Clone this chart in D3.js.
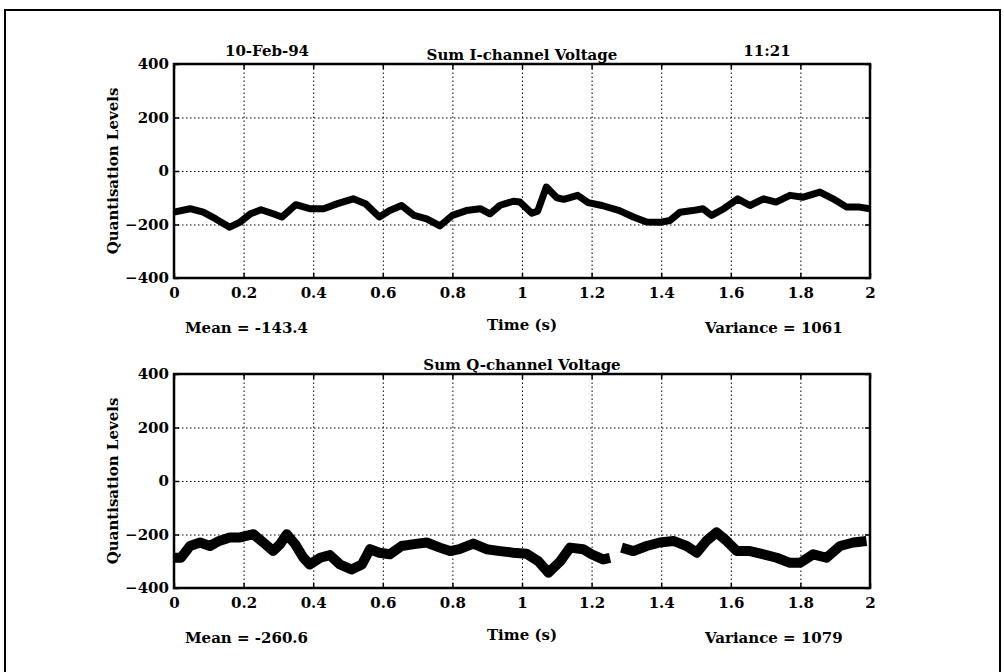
<!DOCTYPE html>
<html>
<head>
<meta charset="utf-8">
<script src="https://cdn.jsdelivr.net/npm/d3@7"></script>
<style>
  body { margin: 0; background: #fff; }
  text { font-family: "DejaVu Serif", "Liberation Serif", serif; font-weight: bold; fill: #000; }
  .grid line { stroke: #000; stroke-width: 1; stroke-dasharray: 1.5,2.5; }
  .grid path { display: none; }
  .marks path { display: none; }
  .marks line { stroke: #000; stroke-width: 1.5; }
</style>
</head>
<body>
<div id="chart"></div>
<script>
// tick labels
var xTicks = [0, 0.2, 0.4, 0.6, 0.8, 1, 1.2, 1.4, 1.6, 1.8, 2];
var yTicks = [-400, -200, 0, 200, 400];

// I-channel trace (time in s, quantisation level)
var iTime = [0, 0.046, 0.084, 0.12, 0.16, 0.19, 0.22, 0.25, 0.285, 0.31, 0.35, 0.39, 0.43, 0.47, 0.515, 0.55, 0.59, 0.62, 0.654, 0.69, 0.726, 0.764, 0.80, 0.84, 0.88, 0.908, 0.937, 0.975, 0.994, 1.028, 1.045, 1.07, 1.10, 1.12, 1.16, 1.19, 1.23, 1.28, 1.32, 1.358, 1.396, 1.425, 1.454, 1.49, 1.52, 1.545, 1.58, 1.62, 1.655, 1.694, 1.73, 1.77, 1.808, 1.856, 1.894, 1.933, 1.97, 2.0];
var iVal = [-154, -141, -154, -179, -210, -191, -160, -145, -160, -172, -126, -141, -141, -122, -104, -122, -172, -148, -129, -166, -179, -205, -166, -148, -141, -160, -128, -113, -116, -158, -150, -60, -100, -106, -91, -118, -129, -148, -172, -191, -192, -185, -154, -148, -141, -166, -141, -104, -129, -104, -116, -91, -98, -79, -104, -135, -135, -141];

// Q-channel trace (null = gap in the record)
var qTime = [0, 0.02, 0.046, 0.075, 0.103, 0.13, 0.16, 0.19, 0.228, 0.257, 0.285, 0.305, 0.324, 0.348, 0.372, 0.39, 0.42, 0.448, 0.477, 0.51, 0.54, 0.563, 0.59, 0.62, 0.654, 0.69, 0.726, 0.764, 0.793, 0.82, 0.86, 0.898, 0.937, 0.975, 1.013, 1.047, 1.076, 1.11, 1.138, 1.176, 1.2, 1.233, 1.253, 1.27, 1.286, 1.32, 1.358, 1.396, 1.435, 1.473, 1.502, 1.53, 1.559, 1.588, 1.617, 1.655, 1.694, 1.732, 1.77, 1.799, 1.837, 1.875, 1.914, 1.952, 1.99];
var qVal = [-287, -287, -243, -230, -243, -224, -211, -211, -199, -230, -262, -236, -199, -236, -287, -312, -287, -277, -312, -331, -312, -255, -268, -274, -243, -236, -230, -249, -262, -255, -234, -255, -262, -268, -272, -300, -343, -300, -249, -255, -274, -293, -287, null, -249, -262, -243, -230, -224, -243, -268, -224, -192, -224, -262, -262, -274, -287, -306, -306, -274, -287, -243, -230, -224];

var panels = [
  {top: 64, title: "Sum I-channel Voltage", mean: "Mean = -143.4", variance: "Variance = 1061",
   t: iTime, v: iVal, width: 7},
  {top: 374, title: "Sum Q-channel Voltage", mean: "Mean = -260.6", variance: "Variance = 1079",
   t: qTime, v: qVal, width: 10}
];

var W = 1004, H = 672;
var left = 174, right = 870, ph = 214;
var pw = right - left;

var svg = d3.select("#chart").append("svg")
    .attr("width", W)
    .attr("height", H);

svg.append("rect").attr("width", W).attr("height", H).attr("fill", "#fff");

// outer page frame
svg.append("rect")
    .attr("x", 5).attr("y", 10)
    .attr("width", 995).attr("height", 700)
    .attr("fill", "none")
    .attr("stroke", "#000")
    .attr("stroke-width", 2);

// header text
svg.append("text").attr("x", 267).attr("y", 56).attr("text-anchor", "middle")
    .style("font-size", "15px").text("10-Feb-94");
svg.append("text").attr("x", 767).attr("y", 56).attr("text-anchor", "middle")
    .style("font-size", "15px").text("11:21");

var x = d3.scaleLinear().domain([0, 2]).range([0, pw]);
var y = d3.scaleLinear().domain([-400, 400]).range([ph, 0]);

panels.forEach(function(p) {
  var g = svg.append("g")
      .attr("transform", "translate(" + left + "," + p.top + ")");

  // dotted grid + tick labels
  g.append("g")
      .attr("class", "grid")
      .attr("transform", "translate(0," + ph + ")")
      .call(d3.axisBottom(x).tickValues(xTicks).tickSize(-ph).tickPadding(9)
        .tickFormat(function(d) { return String(d); }))
      .selectAll("text").style("font-size", "15px");

  g.append("g")
      .attr("class", "grid")
      .call(d3.axisLeft(y).tickValues(yTicks).tickSize(-pw).tickPadding(5))
      .selectAll("text").style("font-size", "15px");

  // short solid tick marks on all four sides
  g.append("g").attr("class", "marks")
      .attr("transform", "translate(0," + ph + ")")
      .call(d3.axisBottom(x).tickValues(xTicks).tickSize(-5).tickFormat(""));
  g.append("g").attr("class", "marks")
      .call(d3.axisTop(x).tickValues(xTicks).tickSize(-5).tickFormat(""));
  g.append("g").attr("class", "marks")
      .call(d3.axisLeft(y).tickValues(yTicks).tickSize(-5).tickFormat(""));
  g.append("g").attr("class", "marks")
      .attr("transform", "translate(" + pw + ",0)")
      .call(d3.axisRight(y).tickValues(yTicks).tickSize(-5).tickFormat(""));

  // signal trace
  var pts = p.t.map(function(t, i) { return [t, p.v[i]]; });
  var line = d3.line()
      .defined(function(d) { return d[1] != null; })
      .x(function(d) { return x(d[0]); })
      .y(function(d) { return y(d[1]); });

  g.append("path")
      .datum(pts)
      .attr("fill", "none")
      .attr("stroke", "#000")
      .attr("stroke-width", p.width)
      .attr("stroke-linejoin", "round")
      .attr("d", line);

  // plot frame
  g.append("rect")
      .attr("width", pw).attr("height", ph)
      .attr("fill", "none")
      .attr("stroke", "#000")
      .attr("stroke-width", 2.5);

  // titles and labels
  g.append("text").attr("x", pw / 2).attr("y", -4).attr("text-anchor", "middle")
      .style("font-size", "15px").text(p.title);

  g.append("text")
      .attr("transform", "translate(-56," + (ph / 2) + ") rotate(-90)")
      .attr("text-anchor", "middle")
      .style("font-size", "15px")
      .text("Quantisation Levels");

  g.append("text").attr("x", 11).attr("y", ph + 55)
      .style("font-size", "15px").text(p.mean);
  g.append("text").attr("x", pw / 2).attr("y", ph + 52).attr("text-anchor", "middle")
      .style("font-size", "15px").text("Time (s)");
  g.append("text").attr("x", 531).attr("y", ph + 55)
      .style("font-size", "15px").text(p.variance);
});
</script>
</body>
</html>
